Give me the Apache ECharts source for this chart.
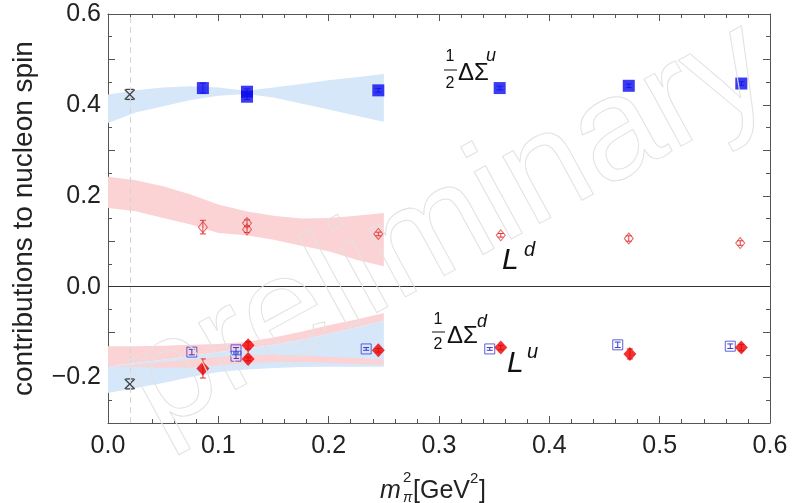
<!DOCTYPE html>
<html>
<head>
<meta charset="utf-8">
<script src="https://cdn.jsdelivr.net/npm/echarts@6/dist/echarts.min.js"></script>
<style>
  html, body { margin: 0; padding: 0; background: #fff; }
  #main { width: 792px; height: 503px; }
</style>
</head>
<body>
<div id="main"></div>
<script>
// m_pi^2 grid of the chiral fit bands
let bandX = [0, 0.025, 0.05, 0.075, 0.1, 0.125, 0.15, 0.175, 0.2, 0.225, 0.25];

// 1/2 DeltaSigma^u band
let dsuHi = [0.423, 0.432, 0.438, 0.441, 0.438, 0.431, 0.438, 0.446, 0.454, 0.461, 0.468];
let dsuLo = [0.360, 0.383, 0.397, 0.411, 0.420, 0.424, 0.416, 0.403, 0.390, 0.376, 0.363];
// L^d band
let ldHi = [0.242, 0.234, 0.221, 0.203, 0.181, 0.166, 0.156, 0.150, 0.151, 0.156, 0.162];
let ldLo = [0.173, 0.166, 0.151, 0.137, 0.118, 0.113, 0.103, 0.090, 0.078, 0.059, 0.045];
// 1/2 DeltaSigma^d band
let dsdHi = [-0.176, -0.168, -0.161, -0.153, -0.144, -0.137, -0.128, -0.117, -0.104, -0.090, -0.075];
let dsdLo = [-0.234, -0.223, -0.212, -0.199, -0.188, -0.182, -0.179, -0.177, -0.176, -0.176, -0.176];
// L^u band (outer edge and the inner strip showing through)
let luHi = [-0.131, -0.131, -0.130, -0.128, -0.126, -0.122, -0.112, -0.099, -0.085, -0.072, -0.058];
let luMid = [-0.176, -0.172, -0.166, -0.160, -0.155, -0.151, -0.150, -0.151, -0.154, -0.157, -0.161];
let luLo = [-0.176, -0.177, -0.178, -0.178, -0.173, -0.169, -0.166, -0.166, -0.168, -0.170, -0.172];

// lattice points
let dsuX = [0.086, 0.126, 0.126, 0.245, 0.355, 0.472, 0.574];
let dsuY = [0.437, 0.429, 0.418, 0.432, 0.437, 0.442, 0.447];
let dsuErr = [0.011, 0.006, 0.006, 0.004, 0.004, 0.004, 0.004];

let ldX = [0.086, 0.126, 0.126, 0.245, 0.356, 0.472, 0.573];
let ldY = [0.131, 0.140, 0.126, 0.116, 0.113, 0.106, 0.096];
let ldErr = [0.015, 0.007, 0.007, 0.004, 0.004, 0.006, 0.005];

let dsdX = [0.076, 0.116, 0.116, 0.234, 0.346, 0.462, 0.564];
let dsdY = [-0.144, -0.139, -0.153, -0.137, -0.137, -0.128, -0.131];
let dsdErr = [0.006, 0.005, 0.005, 0.003, 0.003, 0.006, 0.005];

let luX = [0.086, 0.127, 0.127, 0.245, 0.356, 0.473, 0.574];
let luY = [-0.180, -0.129, -0.159, -0.140, -0.134, -0.148, -0.134];
let luErr = [0.021, 0.008, 0.004, 0.004, 0.005, 0.011, 0.007];

// physical point extrapolations
let physX = [0.0197, 0.0197];
let physY = [0.423, -0.214];

let FONT = "'Liberation Sans', Arial, sans-serif";

function band(xs, lo, hi, color, z) {
    return {
        type: "custom",
        z: z,
        silent: true,
        data: [[xs[0], lo[0]]],
        renderItem: function (params, api) {
            let pts = [];
            xs.forEach((x, i) => pts.push(api.coord([x, hi[i]])));
            for (let i = xs.length - 1; i >= 0; i--) pts.push(api.coord([xs[i], lo[i]]));
            return { type: "polygon", shape: { points: pts }, style: { fill: color } };
        }
    };
}

function errorBars(xs, ys, es, color) {
    return {
        type: "custom",
        z: 3,
        silent: true,
        data: xs.map((x, i) => [x, ys[i], es[i]]),
        renderItem: function (params, api) {
            let x = api.value(0), y = api.value(1), e = api.value(2);
            let t = api.coord([x, y + e]), b = api.coord([x, y - e]);
            let w = 3;
            let st = { stroke: color, lineWidth: 1 };
            return {
                type: "group",
                children: [
                    { type: "line", shape: { x1: t[0], y1: t[1], x2: b[0], y2: b[1] }, style: st },
                    { type: "line", shape: { x1: t[0] - w, y1: t[1], x2: t[0] + w, y2: t[1] }, style: st },
                    { type: "line", shape: { x1: b[0] - w, y1: b[1], x2: b[0] + w, y2: b[1] }, style: st }
                ]
            };
        }
    };
}

function points(xs, ys, symbol, size, itemStyle) {
    return {
        type: "scatter",
        z: 4,
        silent: true,
        symbol: symbol,
        symbolSize: size,
        itemStyle: itemStyle,
        data: xs.map((x, i) => [x, ys[i]])
    };
}

let crossSeries = {
    type: "custom",
    z: 4,
    silent: true,
    data: physX.map((x, i) => [x, physY[i]]),
    renderItem: function (params, api) {
        let p = api.coord([api.value(0), api.value(1)]);
        let s = 5;
        let st = { stroke: "#444", lineWidth: 1.3 };
        return {
            type: "group",
            children: [
                { type: "line", shape: { x1: p[0] - s, y1: p[1] - s, x2: p[0] + s, y2: p[1] + s }, style: st },
                { type: "line", shape: { x1: p[0] - s, y1: p[1] + s, x2: p[0] + s, y2: p[1] - s }, style: st },
                { type: "line", shape: { x1: p[0] - 4, y1: p[1] - s, x2: p[0] + 4, y2: p[1] - s }, style: st },
                { type: "line", shape: { x1: p[0] - 4, y1: p[1] + s, x2: p[0] + 4, y2: p[1] + s }, style: st }
            ]
        };
    }
};

let refLines = {
    type: "line",
    data: [],
    silent: true,
    markLine: {
        silent: true,
        symbol: "none",
        label: { show: false },
        data: [
            { yAxis: 0, lineStyle: { color: "#333", width: 1, type: "solid" } },
            { xAxis: 0.0197, lineStyle: { color: "#d4d4d4", width: 1, type: [6, 4] } }
        ]
    }
};

function yLabel(v) {
    let k = Math.round(v * 10);
    if (k % 2 !== 0) return "";
    let s = Math.abs(v).toFixed(1);
    return v < -1e-9 ? "\u2212" + s : s;
}

let axisLineStyle = { onZero: false, lineStyle: { color: "#555", width: 1 } };
let tickStyle = { inside: true, length: 7, lineStyle: { color: "#555" } };

let myChart = echarts.init(document.getElementById("main"));

let option = {
    animation: false,
    grid: { left: 108, right: 22, top: 14, bottom: 80 },
    xAxis: [
        {
            type: "value", min: 0, max: 0.6, interval: 0.1, position: "bottom",
            axisLine: axisLineStyle,
            axisTick: tickStyle,
            minorTick: { show: true, splitNumber: 5, length: 4, lineStyle: { color: "#555" } },
            splitLine: { show: false },
            axisLabel: { margin: 11, fontSize: 25, color: "#222", fontFamily: FONT,
                formatter: v => v.toFixed(1) }
        },
        {
            type: "value", min: 0, max: 0.6, interval: 0.1, position: "top",
            axisLine: axisLineStyle,
            axisTick: tickStyle,
            minorTick: { show: true, splitNumber: 5, length: 4, lineStyle: { color: "#555" } },
            splitLine: { show: false },
            axisLabel: { show: false }
        }
    ],
    yAxis: [
        {
            type: "value", min: -0.3, max: 0.6, interval: 0.1, position: "left",
            axisLine: axisLineStyle,
            axisTick: tickStyle,
            minorTick: { show: true, splitNumber: 2, length: 4, lineStyle: { color: "#555" } },
            splitLine: { show: false },
            axisLabel: { margin: 7, fontSize: 25, color: "#222", fontFamily: FONT, formatter: yLabel },
            name: "contributions to nucleon spin",
            nameLocation: "middle",
            nameGap: 70,
            nameTextStyle: { fontSize: 28, color: "#222", fontFamily: FONT }
        },
        {
            type: "value", min: -0.3, max: 0.6, interval: 0.1, position: "right",
            axisLine: axisLineStyle,
            axisTick: tickStyle,
            minorTick: { show: true, splitNumber: 2, length: 4, lineStyle: { color: "#555" } },
            splitLine: { show: false },
            axisLabel: { show: false }
        }
    ],
    series: [
        band(bandX, dsuLo, dsuHi, "#d5e7f8", 1),
        band(bandX, ldLo, ldHi, "#fcd3d5", 1),
        band(bandX, dsdHi, luHi, "#fcd3d5", 1),
        band(bandX, dsdLo, dsdHi, "#d5e7f8", 1),
        band(bandX, luLo, luMid, "#fcd3d5", 2),
        refLines,
        errorBars(dsuX, dsuY, dsuErr, "#4444ee"),
        errorBars(ldX, ldY, ldErr, "#e03a3a"),
        errorBars(dsdX, dsdY, dsdErr, "#3a3ad0"),
        errorBars(luX, luY, luErr, "#d83030"),
        points(dsuX, dsuY, "rect", 12, { color: "#0a0aee" }),
        points(ldX, ldY, "diamond", [9, 11], { color: "rgba(255,255,255,0)", borderColor: "#e03a3a", borderWidth: 1 }),
        points(dsdX, dsdY, "rect", 10, { color: "rgba(255,255,255,0)", borderColor: "#3a3ad0", borderWidth: 1 }),
        points(luX, luY, "diamond", [13, 14], { color: "#ee0000" }),
        crossSeries
    ],
    graphic: [
        // watermark
        {
            type: "text", x: 448, y: 228, rotation: 0.5, z: 100, silent: true,
            style: { text: "preliminary", font: "145px " + FONT, align: "center", verticalAlign: "middle",
                fill: "rgba(255,255,255,0)", stroke: "#e2e2e2", lineWidth: 1 }
        },
        // 1/2 DeltaSigma^u
        { type: "text", x: 450, y: 57, style: { text: "1", font: "16px " + FONT, fill: "#111", align: "center", verticalAlign: "middle" } },
        { type: "line", shape: { x1: 444, y1: 70, x2: 457, y2: 70 }, style: { stroke: "#111", lineWidth: 1 } },
        { type: "text", x: 450, y: 84, style: { text: "2", font: "16px " + FONT, fill: "#111", align: "center", verticalAlign: "middle" } },
        { type: "text", x: 458, y: 73, style: { text: "\u0394\u03a3", font: "24px " + FONT, fill: "#111", align: "left", verticalAlign: "middle" } },
        { type: "text", x: 486, y: 56, style: { text: "u", font: "italic 18px " + FONT, fill: "#111", align: "left", verticalAlign: "middle" } },
        // L^d
        { type: "text", x: 502, y: 261, style: { text: "L", font: "italic 30px " + FONT, fill: "#111", align: "left", verticalAlign: "middle" } },
        { type: "text", x: 524, y: 250, style: { text: "d", font: "italic 20px " + FONT, fill: "#111", align: "left", verticalAlign: "middle" } },
        // 1/2 DeltaSigma^d
        { type: "text", x: 438, y: 320, style: { text: "1", font: "16px " + FONT, fill: "#111", align: "center", verticalAlign: "middle" } },
        { type: "line", shape: { x1: 432, y1: 332, x2: 445, y2: 332 }, style: { stroke: "#111", lineWidth: 1 } },
        { type: "text", x: 438, y: 345, style: { text: "2", font: "16px " + FONT, fill: "#111", align: "center", verticalAlign: "middle" } },
        { type: "text", x: 447, y: 336, style: { text: "\u0394\u03a3", font: "24px " + FONT, fill: "#111", align: "left", verticalAlign: "middle" } },
        { type: "text", x: 477, y: 322, style: { text: "d", font: "italic 18px " + FONT, fill: "#111", align: "left", verticalAlign: "middle" } },
        // L^u
        { type: "text", x: 507, y: 364, style: { text: "L", font: "italic 30px " + FONT, fill: "#111", align: "left", verticalAlign: "middle" } },
        { type: "text", x: 527, y: 352, style: { text: "u", font: "italic 20px " + FONT, fill: "#111", align: "left", verticalAlign: "middle" } },
        // x axis title m_pi^2 [GeV^2]
        { type: "text", x: 380, y: 491, style: { text: "m", font: "italic 25px " + FONT, fill: "#222", align: "left", verticalAlign: "middle" } },
        { type: "text", x: 403, y: 478, style: { text: "2", font: "15px " + FONT, fill: "#222", align: "left", verticalAlign: "middle" } },
        { type: "text", x: 403, y: 498, style: { text: "\u03c0", font: "italic 14px " + FONT, fill: "#222", align: "left", verticalAlign: "middle" } },
        { type: "text", x: 413, y: 491, style: { text: "[GeV", font: "25px " + FONT, fill: "#222", align: "left", verticalAlign: "middle" } },
        { type: "text", x: 470, y: 479, style: { text: "2", font: "15px " + FONT, fill: "#222", align: "left", verticalAlign: "middle" } },
        { type: "text", x: 479, y: 491, style: { text: "]", font: "25px " + FONT, fill: "#222", align: "left", verticalAlign: "middle" } }
    ]
};

myChart.setOption(option);
</script>
</body>
</html>
